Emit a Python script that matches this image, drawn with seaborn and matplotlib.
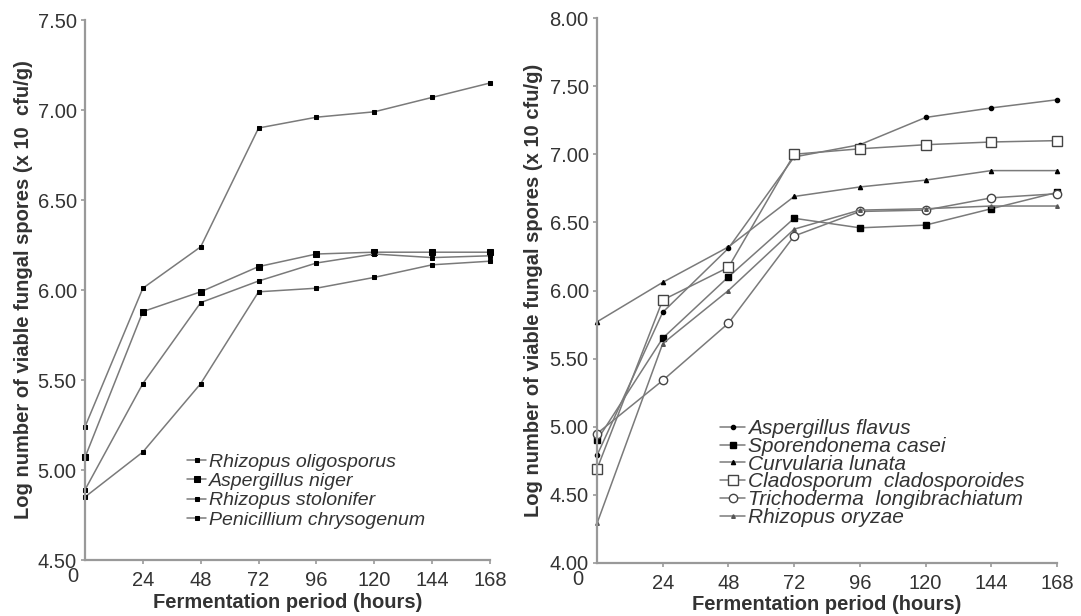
import numpy as np
import pandas as pd
import matplotlib
matplotlib.use("Agg")
import matplotlib.pyplot as plt
import seaborn as sns

# Data
hours = [0, 24, 48, 72, 96, 120, 144, 168]

# left panel
left_names = ['Rhizopus oligosporus', 'Aspergillus niger',
              'Rhizopus stolonifer', 'Penicillium chrysogenum']
r_oligosporus = [5.24, 6.01, 6.24, 6.90, 6.96, 6.99, 7.07, 7.15]
a_niger = [5.07, 5.88, 5.99, 6.13, 6.20, 6.21, 6.21, 6.21]
r_stolonifer = [4.89, 5.48, 5.93, 6.05, 6.15, 6.20, 6.18, 6.19]
p_chrysogenum = [4.85, 5.10, 5.48, 5.99, 6.01, 6.07, 6.14, 6.16]

# right panel
right_names = ['Aspergillus flavus', 'Sporendonema casei', 'Curvularia lunata',
               'Cladosporum  cladosporoides', 'Trichoderma  longibrachiatum',
               'Rhizopus oryzae']
a_flavus = [4.79, 5.84, 6.31, 6.98, 7.07, 7.27, 7.34, 7.40]
s_casei = [4.90, 5.65, 6.10, 6.53, 6.46, 6.48, 6.60, 6.72]
c_lunata = [5.77, 6.06, 6.32, 6.69, 6.76, 6.81, 6.88, 6.88]
c_cladosporoides = [4.69, 5.93, 6.17, 7.00, 7.04, 7.07, 7.09, 7.10]
t_longibrachiatum = [4.95, 5.34, 5.76, 6.40, 6.58, 6.59, 6.68, 6.71]
r_oryzae = [4.29, 5.61, 6.00, 6.45, 6.59, 6.60, 6.62, 6.62]

left_ticks = [4.5, 5.0, 5.5, 6.0, 6.5, 7.0, 7.5]
right_ticks = [4.0, 4.5, 5.0, 5.5, 6.0, 6.5, 7.0, 7.5, 8.0]
x_ticks = [24, 48, 72, 96, 120, 144, 168]

sns.set_style("ticks")
plt.rcParams['font.family'] = ['Liberation Sans', 'DejaVu Sans']

line_col = '#7a7a7a'
axis_col = '#999999'
text_col = '#333333'

fig = plt.figure(figsize=(10.81, 6.16), dpi=100)
ax1 = fig.add_axes([85 / 1081, 56 / 616, 405 / 1081, 540 / 616])
ax2 = fig.add_axes([597 / 1081, 53 / 616, 460 / 1081, 545 / 616])

left_series = [r_oligosporus, a_niger, r_stolonifer, p_chrysogenum]
left_style = [('s', 3.2), ('s', 3.8), ('s', 2.6), ('s', 3.2)]
for name, vals, (m, ms) in zip(left_names, left_series, left_style):
    sns.lineplot(x=hours, y=vals, ax=ax1, color=line_col, lw=1.1,
                 marker=m, markersize=ms, markerfacecolor='k',
                 markeredgecolor='k', label=name, clip_on=False)

right_series = [a_flavus, s_casei, c_lunata, c_cladosporoides,
                t_longibrachiatum, r_oryzae]
right_style = [('o', 3.0, 'k', 'k'), ('s', 4.0, 'k', 'k'), ('^', 3.0, 'k', 'k'),
               ('s', 6.5, 'white', '#444444'), ('o', 6.0, 'white', '#444444'),
               ('^', 2.6, '#555555', '#555555')]
for name, vals, (m, ms, fc, ec) in zip(right_names, right_series, right_style):
    sns.lineplot(x=hours, y=vals, ax=ax2, color=line_col, lw=1.1,
                 marker=m, markersize=ms, markerfacecolor=fc,
                 markeredgecolor=ec, markeredgewidth=1.0, label=name,
                 clip_on=False)

for ax, yt, lim in [(ax1, left_ticks, (4.5, 7.5)), (ax2, right_ticks, (4.0, 8.0))]:
    ax.set_xlim(0, 168)
    ax.set_ylim(*lim)
    ax.set_yticks(yt)
    ax.set_yticklabels([f"{v:.2f}" for v in yt])
    ax.set_xticks(x_ticks)
    ax.set_xticklabels([str(v) for v in x_ticks])
    sns.despine(ax=ax)
    for s in ['left', 'bottom']:
        ax.spines[s].set_color(axis_col)
        ax.spines[s].set_linewidth(1.6)
    ax.tick_params(axis='both', direction='out', length=3, width=1.2,
                   color=axis_col, labelcolor=text_col, labelsize=14.5)
    ax.tick_params(axis='y', pad=3)
    ax.tick_params(axis='x', pad=5)
    ax.set_xlabel("Fermentation period (hours)", fontsize=14.5,
                  fontweight='bold', color=text_col)

ax1.set_ylabel("Log number of viable fungal spores (x 10  cfu/g)", fontsize=14.5,
               fontweight='bold', color=text_col)
ax2.set_ylabel("Log number of viable fungal spores (x 10 cfu/g)", fontsize=14.5,
               fontweight='bold', color=text_col)
ax1.yaxis.set_label_coords(-0.128, 0.5)
ax2.yaxis.set_label_coords(-0.118, 0.5)
ax1.xaxis.set_label_coords(0.5, -0.061)
ax2.xaxis.set_label_coords(0.5, -0.058)

# the lone "0" under the origin
ax1.text(-0.03, -0.031, "0", transform=ax1.transAxes, ha='center', va='center',
         fontsize=14.5, color=text_col)
ax2.text(-0.041, -0.031, "0", transform=ax2.transAxes, ha='center', va='center',
         fontsize=14.5, color=text_col)

leg1 = ax1.legend(loc='center left', bbox_to_anchor=(187 / 1081, 1 - 491 / 616),
                  bbox_transform=fig.transFigure, frameon=False,
                  handlelength=1.0, handletextpad=0.15, labelspacing=0.08,
                  borderpad=0, borderaxespad=0, prop={'style': 'italic', 'size': 14})
leg2 = ax2.legend(loc='center left', bbox_to_anchor=(720 / 1081, 1 - 473 / 616),
                  bbox_transform=fig.transFigure, frameon=False,
                  handlelength=1.2, handletextpad=0.15, labelspacing=-0.06,
                  borderpad=0, borderaxespad=0, prop={'style': 'italic', 'size': 15})
for leg in (leg1, leg2):
    for t in leg.get_texts():
        t.set_color(text_col)

fig.savefig("out.png", dpi=100)
